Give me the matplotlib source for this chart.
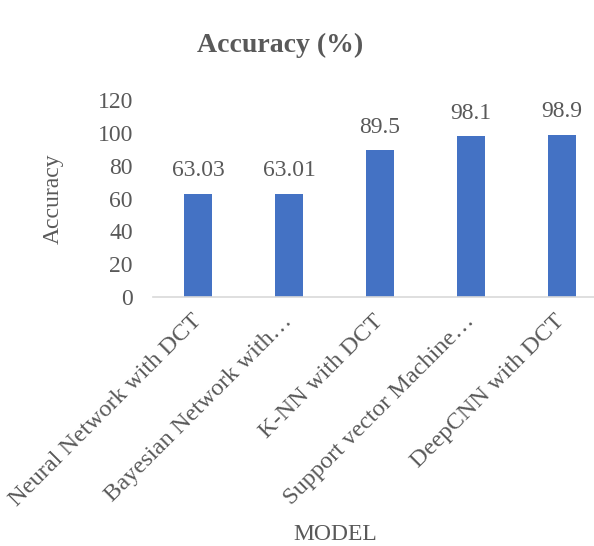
"""
Bar chart: model accuracy with DCT features.
"""

import matplotlib
matplotlib.use("Agg")
import matplotlib.pyplot as plt

models = [
    "Neural Network with DCT",
    "Bayesian Network with\u2026",
    "K-NN with DCT",
    "Support vector Machine\u2026",
    "DeepCNN with DCT",
]
accuracy = [63.03, 63.01, 89.5, 98.1, 98.9]
value_labels = ["63.03", "63.01", "89.5", "98.1", "98.9"]
y_ticks = [0, 20, 40, 60, 80, 100, 120]

TEXT = "#595959"
BAR = "#4472C4"
FS = 17

plt.rcParams["font.family"] = ["Liberation Serif", "DejaVu Serif"]

fig = plt.figure(figsize=(5.94, 5.46), dpi=100)
W, H = 594, 546
ax = fig.add_axes([153 / W, (H - 297) / H, (W - 153) / W, 196.6 / H])

x = list(range(len(models)))
ax.bar(x, accuracy, width=0.31, color=BAR, zorder=2)

for xi, v, lab in zip(x, accuracy, value_labels):
    ax.annotate(lab, (xi, v), xytext=(0, 9), textcoords="offset points",
                ha="center", va="bottom", fontsize=FS, color=TEXT)

ax.set_ylim(0, 120)
ax.set_xlim(-0.5, 4.5 - 13 / 91)
ax.set_yticks(y_ticks)
ax.set_xticks(x)
ax.set_xticklabels(models, rotation=45, ha="right", va="center",
                   rotation_mode="anchor", fontsize=17.6, color=TEXT)
ax.tick_params(axis="y", length=0, labelsize=FS, labelcolor=TEXT, pad=14.5)
ax.tick_params(axis="x", length=0, pad=15)

for side in ["top", "right", "left"]:
    ax.spines[side].set_visible(False)
ax.spines["bottom"].set_color("#D9D9D9")
ax.spines["bottom"].set_linewidth(1.2)

ax.set_ylabel("Accuracy", fontsize=FS, color=TEXT, labelpad=24)
fig.text(335 / W, 1 - 535 / H, "MODEL", ha="center", va="center",
         fontsize=FS, color=TEXT)
fig.text(280 / W, 1 - 45 / H, "Accuracy (%)", ha="center", va="center",
         fontsize=20, fontweight="bold", color=TEXT)

fig.savefig("out.png", dpi=100, facecolor="white")
plt.close(fig)
